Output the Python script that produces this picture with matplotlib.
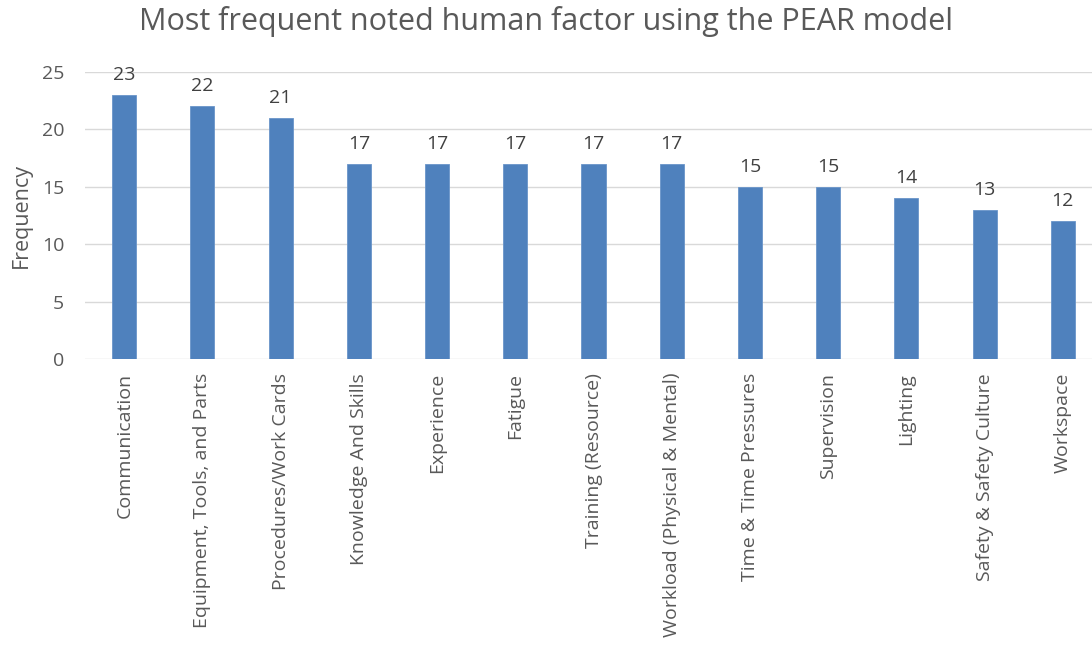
import matplotlib.pyplot as plt

plt.rcParams['font.family'] = ['Open Sans', 'DejaVu Sans']

factors = ["Communication", "Equipment, Tools, and Parts", "Procedures/Work Cards",
           "Knowledge And Skills", "Experience", "Fatigue", "Training (Resource)",
           "Workload (Physical & Mental)", "Time & Time Pressures", "Supervision",
           "Lighting", "Safety & Safety Culture", "Workspace"]
frequency = [23, 22, 21, 17, 17, 17, 17, 17, 15, 15, 14, 13, 12]
yticks = [0, 5, 10, 15, 20, 25]

text_color = '#595959'

fig = plt.figure(figsize=(10.92, 6.47), dpi=100)
# chart is cut off on the right in the reference, so the axes go past the edge
ax = fig.add_axes([0.078, 0.445, 0.931, 0.444])

pos = range(len(factors))
bars = ax.bar(pos, frequency, width=0.307, color='#4f81bd', edgecolor='#6a95c9',
              linewidth=0.6, zorder=3)
for b, v in zip(bars, frequency):
    ax.annotate(str(v), (b.get_x() + b.get_width() / 2, v), xytext=(0, 8),
                textcoords='offset points', ha='center', va='bottom',
                fontsize=14, color='#404040')

ax.set_xlim(-0.5, len(factors) - 0.5)
ax.set_ylim(0, 25)
ax.set_yticks(yticks)
ax.set_xticks(list(pos))
ax.set_xticklabels(factors, rotation=90, fontsize=14, color=text_color)
ax.tick_params(axis='y', labelsize=14, labelcolor=text_color, length=0, pad=15)
ax.tick_params(axis='x', length=0, pad=10)
ax.grid(axis='y', color='#d9d9d9', linewidth=1, zorder=0)
for s in ax.spines.values():
    s.set_visible(False)

ax.set_ylabel("Frequency", fontsize=15.5, color=text_color)
ax.yaxis.set_label_coords(-0.052, 0.5)
fig.text(0.5, 0.966, "Most frequent noted human factor using the PEAR model",
         ha='center', va='center', fontsize=22, color=text_color)

plt.savefig("out.png", dpi=100)
